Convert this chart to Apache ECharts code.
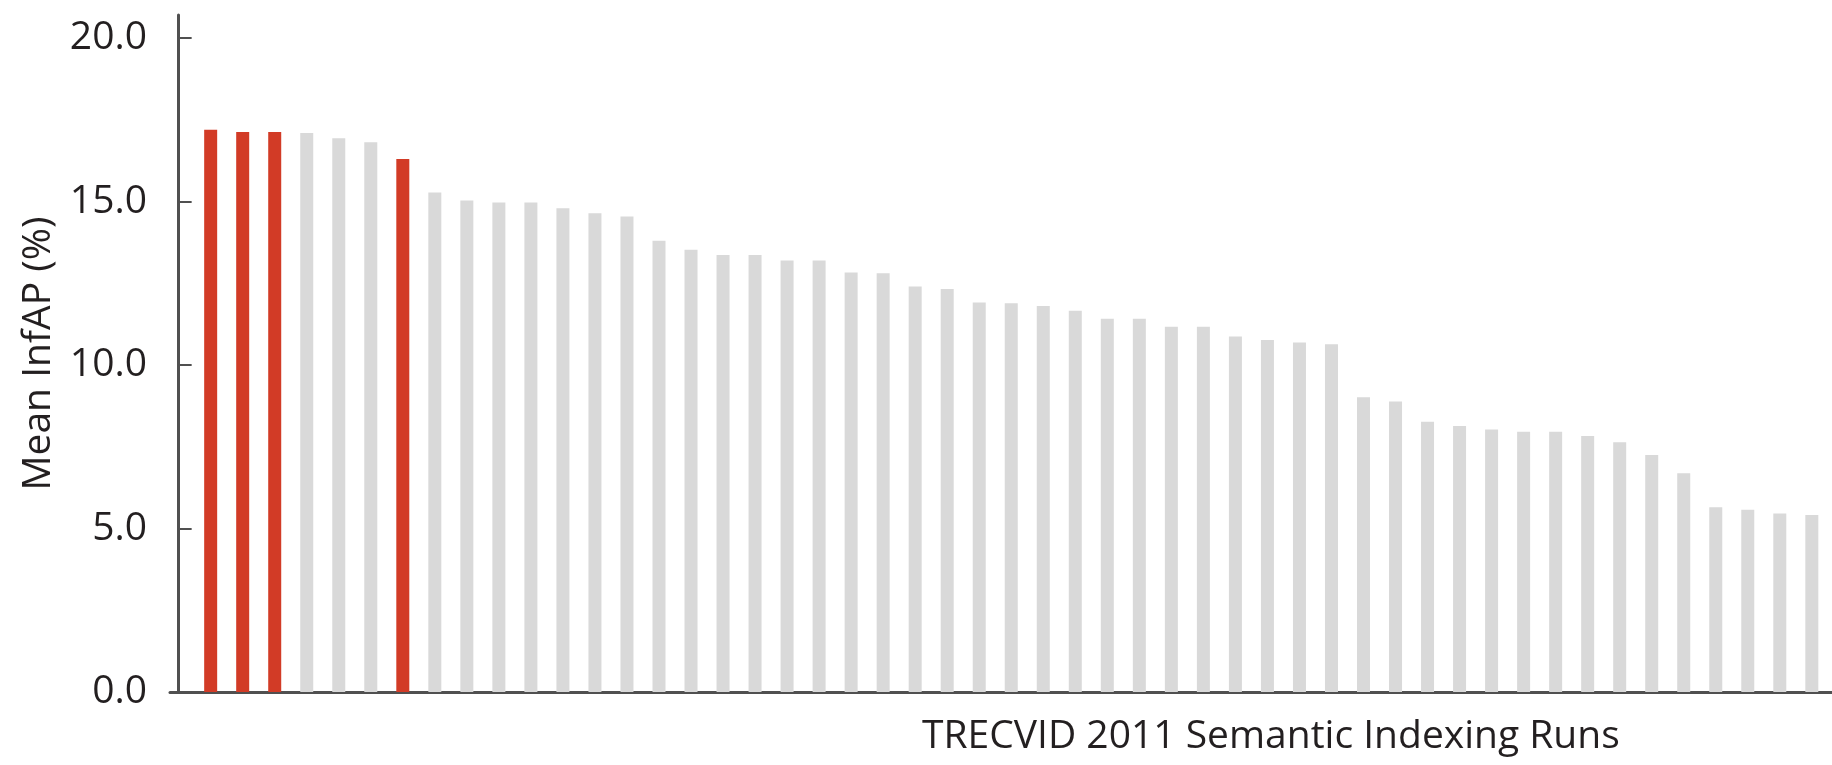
<!DOCTYPE html>
<html>
<head>
<meta charset="utf-8">
<title>TRECVID 2011 Semantic Indexing Runs</title>
<script src="https://cdn.jsdelivr.net/npm/echarts@6/dist/echarts.min.js"></script>
<style>
  html, body { margin: 0; padding: 0; background: #ffffff; }
  #chart { width: 1832px; height: 765px; }
</style>
</head>
<body>
<div id="chart"></div>
<script>
// Run positions along the x axis (1 = best run)
const runs = [
  1, 2, 3, 4, 5, 6, 7, 8, 9, 10,
  11, 12, 13, 14, 15, 16, 17, 18, 19, 20,
  21, 22, 23, 24, 25, 26, 27, 28, 29, 30,
  31, 32, 33, 34, 35, 36, 37, 38, 39, 40,
  41, 42, 43, 44, 45, 46, 47, 48, 49, 50,
  51
];

// Mean InfAP (%) of each run, sorted from best to worst
const meanInfAP = [
  17.19, 17.12, 17.12, 17.09, 16.93, 16.81, 16.30, 15.27, 15.03, 14.97,
  14.97, 14.79, 14.64, 14.54, 13.80, 13.52, 13.36, 13.36, 13.19, 13.19,
  12.83, 12.80, 12.40, 12.32, 11.91, 11.89, 11.80, 11.66, 11.41, 11.41,
  11.17, 11.17, 10.87, 10.76, 10.69, 10.63, 9.01, 8.88, 8.26, 8.13,
  8.03, 7.96, 7.96, 7.83, 7.64, 7.25, 6.69, 5.65, 5.57, 5.46,
  5.41
];

// Runs drawn in the highlight colour
const highlightedRuns = [1, 2, 3, 7];

// Tick values on the InfAP axis
const yTicks = [0, 5, 10, 15, 20];

const RED = '#d23b26';
const GREY = '#d9d9d9';
const AXIS = '#505050';
const TEXT = '#231f20';
const FONT = '"Open Sans", "Noto Sans", sans-serif';

const barData = runs.map((run, i) => ({
  value: [run, meanInfAP[i]],
  itemStyle: { color: highlightedRuns.includes(run) ? RED : GREY }
}));

const chart = echarts.init(document.getElementById('chart'), null, { renderer: 'canvas' });

chart.setOption({
  animation: false,
  backgroundColor: '#ffffff',
  textStyle: { fontFamily: FONT },
  title: {
    text: 'TRECVID 2011 Semantic Indexing Runs',
    left: 922,
    top: 717,
    padding: 0,
    textStyle: { fontFamily: FONT, fontSize: 39, fontWeight: 'normal', color: TEXT }
  },
  grid: { left: 170, right: 0, top: 15, bottom: 73, containLabel: false },
  xAxis: {
    type: 'value',
    min: -0.27,
    max: 51.63,
    axisLine: { show: true, onZero: false, lineStyle: { color: AXIS, width: 3 } },
    axisTick: { show: false },
    axisLabel: { show: false },
    splitLine: { show: false }
  },
  yAxis: {
    type: 'value',
    min: 0,
    max: 20.7,
    interval: 5,
    name: 'Mean InfAP (%)',
    nameLocation: 'middle',
    nameGap: 112,
    nameTextStyle: { fontFamily: FONT, fontSize: 39, color: TEXT },
    axisLine: { show: true, lineStyle: { color: AXIS, width: 3 } },
    axisTick: {
      show: true,
      inside: true,
      length: 13,
      customValues: yTicks,
      lineStyle: { color: AXIS, width: 2 }
    },
    axisLabel: {
      show: true,
      customValues: yTicks,
      margin: 23,
      fontFamily: FONT,
      fontSize: 39,
      color: TEXT,
      formatter: v => v.toFixed(1)
    },
    splitLine: { show: false }
  },
  series: [{
    type: 'bar',
    barWidth: 13,
    data: barData
  }]
});
</script>
</body>
</html>
